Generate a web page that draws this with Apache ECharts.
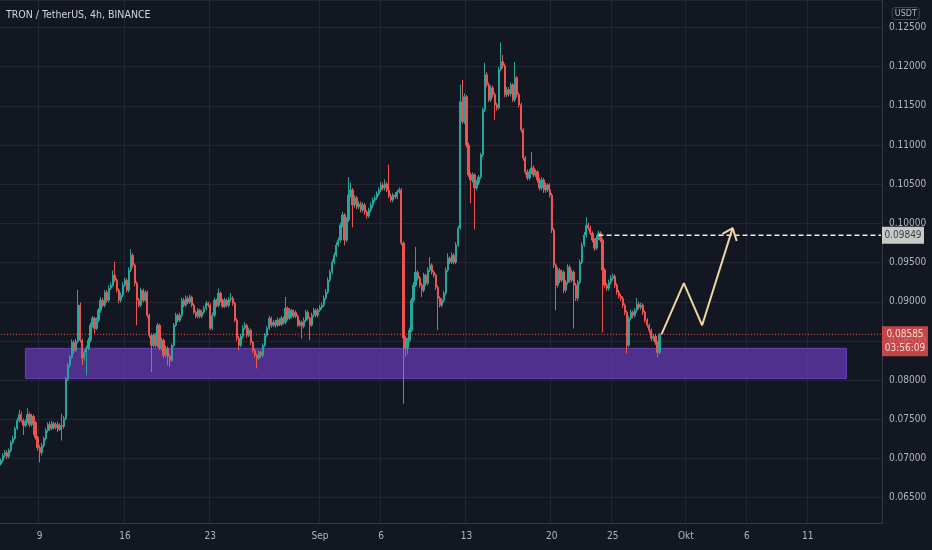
<!DOCTYPE html>
<html><head><meta charset="utf-8">
<script src="https://cdn.jsdelivr.net/npm/echarts@6/dist/echarts.min.js"></script>
<style>html,body{margin:0;padding:0;background:#131722;}#c{width:932px;height:550px;}</style>
</head><body><div id="c"></div>
<script>
// ---- data (prices in 1e-5 USDT) ----
const startTime = '2021-08-05T20:00:00Z';
const slotCount = 434;
const priceScale = 1e5;
const firstOpen = 6930;
const closes = [
6974,7038,7076,7025,7102,7204,7255,7383,7485,7562,
7485,7421,7472,7562,7434,7536,7459,7268,7140,7076,
7165,7255,7357,7434,7383,7446,7395,7434,7370,7421,
7408,7510,8010,8189,8291,8482,8380,8495,8956,8508,
8278,8355,8406,8508,8700,8790,8662,8764,8892,9020,
8956,9122,9020,9173,9212,9340,9276,9148,9020,9084,
9212,9276,9148,9404,9595,9468,9237,9020,8956,9148,
9020,9122,8828,8572,8444,8572,8444,8700,8406,8508,
8317,8406,8304,8253,8444,8700,8828,8764,8828,9020,
8956,9045,8994,9058,8956,8866,8815,8892,8815,8866,
8917,8981,8956,8662,8828,9020,8956,9109,9020,8943,
9020,8956,9032,9045,8981,8764,8534,8444,8559,8662,
8700,8572,8636,8482,8380,8317,8278,8355,8317,8444,
8572,8662,8790,8700,8739,8700,8764,8713,8790,8739,
8917,8790,8892,8815,8866,8815,8700,8739,8687,8764,
8866,8790,8700,8828,8892,8828,8892,8930,8956,9045,
9122,9276,9378,9506,9595,9723,9787,9979,10107,9787,
10043,10363,10427,10235,10325,10210,10248,10171,10235,10146,
10095,10171,10235,10299,10325,10376,10427,10491,10453,10504,
10427,10350,10299,10363,10338,10402,10427,9749,8534,8406,
8508,8636,9020,9212,9378,9301,9212,9148,9340,9237,
9404,9468,9378,9340,9186,9045,8956,9020,9109,9404,
9557,9506,9595,9506,9723,9941,11552,11296,11616,11000,
10619,10555,10619,10453,10517,10593,10874,11450,11898,11770,
11578,11731,11642,11514,11475,11962,12064,12013,11642,11706,
11655,11770,11578,11859,11642,11514,11194,10836,10657,10580,
10657,10708,10619,10657,10555,10453,10555,10427,10491,10427,
10363,9915,9468,9212,9404,9276,9378,9148,9250,9442,
9276,9378,9212,9045,9250,9506,9723,9851,9979,9941,
9877,9787,9685,9813,9877,9787,9404,9212,9173,9250,
9301,9327,9212,9122,9071,9045,8956,8866,8444,8790,
8866,8828,8892,8968,8930,8956,8866,8764,8700,8636,
8534,8559,8482,8355,8585
];
const highs = [
7000,7070,7110,7110,7130,7230,7290,7410,7520,7620,
7600,7510,7500,7640,7590,7570,7560,7480,7290,7170,
7200,7280,7390,7460,7470,7480,7470,7460,7470,7450,
7570,7540,8040,8220,8320,8520,8510,8530,9150,8990,
8530,8390,8440,8540,8730,8820,8810,8800,8920,9060,
9050,9150,9150,9210,9250,9400,9510,9300,9170,9120,
9250,9310,9300,9440,9670,9620,9490,9260,9050,9180,
9170,9150,9140,8850,8600,8600,8600,8730,8720,8540,
8530,8440,8430,8330,8470,8730,8860,8850,8860,9050,
9050,9080,9070,9090,9080,8980,8890,8920,8910,8900,
8950,9010,9000,8980,8860,9050,9040,9170,9130,9040,
9050,9040,9060,9110,9070,9000,8790,8560,8590,8700,
8740,8720,8670,8660,8500,8400,8340,8380,8380,8470,
8600,8690,8820,8810,8770,8770,8800,8790,8820,8810,
9060,8940,8920,8910,8900,8890,8840,8770,8760,8800,
8900,8890,8810,8860,8920,8910,8920,8960,8990,9080,
9160,9310,9410,9540,9630,9760,9820,10010,10150,10130,
10080,10590,10520,10450,10360,10350,10280,10280,10270,10260,
10170,10200,10270,10330,10360,10410,10460,10530,10520,10560,
10530,10750,10380,10390,10400,10430,10460,10450,9770,8560,
8540,8670,9050,9250,9700,9400,9330,9240,9370,9360,
9440,9570,9490,9400,9360,9210,9070,9050,9140,9440,
9620,9580,9630,9620,9760,9970,11770,11830,11660,11640,
11030,10650,10650,10640,10550,10620,10900,11480,12050,11930,
11800,11760,11760,11670,11540,12000,12310,12150,12040,11740,
11740,11800,11790,12060,11880,11670,11540,11220,10860,10690,
10690,10910,10740,10690,10680,10580,10590,10580,10520,10510,
10510,10390,9940,9490,9440,9430,9410,9400,9280,9480,
9470,9410,9400,9240,9280,9540,9760,9890,10080,10010,
9970,9900,9810,9850,9910,9900,9810,9430,9240,9280,
9340,9360,9350,9240,9150,9100,9070,8980,8890,8820,
8900,8890,8920,9050,9000,8990,8980,8890,8790,8720,
8660,8590,8590,8500,8600
];
const lows = [
6910,6950,7010,6990,7000,7080,7180,7240,7360,7460,
7460,7300,7400,7450,7400,7410,7300,7240,7100,6950,
7040,7140,7230,7330,7350,7360,7370,7370,7340,7350,
7230,7380,7490,7990,8160,8270,8340,8360,8470,8480,
8190,8250,8060,8380,8480,8670,8600,8640,8740,8860,
8930,8930,8990,8990,9150,9190,9250,9120,8980,8990,
9060,9190,9120,9120,9380,9440,9200,8700,8930,8930,
8990,9000,8800,8540,8100,8420,8410,8420,8380,8380,
8280,8290,8190,8170,8230,8420,8680,8740,8740,8800,
8930,8930,8970,8970,8930,8840,8790,8790,8790,8790,
8840,8890,8930,8640,8640,8800,8930,8930,8990,8920,
8920,8930,8930,9000,8950,8740,8500,8380,8420,8530,
8640,8540,8550,8450,8350,8290,8150,8250,8290,8290,
8420,8550,8640,8670,8680,8670,8680,8690,8690,8710,
8710,8760,8770,8790,8790,8790,8680,8680,8530,8660,
8740,8760,8510,8680,8800,8800,8800,8870,8900,8930,
9020,9100,9250,9350,9480,9570,9700,9760,9950,9720,
9760,10020,10330,9950,10200,10180,10180,10140,10140,10110,
10060,10070,10140,10200,10270,10300,10350,10400,10420,10420,
10400,10320,10270,10270,10310,10310,10380,9720,7700,8300,
8330,8480,8610,8990,9190,9270,9180,9060,9120,9200,
9210,9380,9350,9310,9150,8640,8930,8930,8990,9080,
9380,9480,9480,9480,9480,9700,9920,11270,11270,10970,
10590,10260,10520,9920,10420,10490,10560,10850,11420,11740,
11550,11550,11610,11320,11440,11450,11940,11980,11610,11610,
11620,11620,11550,11550,11610,11480,11160,10800,10620,10550,
10550,10630,10590,10590,10520,10420,10420,10390,10390,10400,
10330,9880,9430,8890,9180,9240,9250,9110,9120,9220,
9240,9250,8660,9010,9010,9220,9480,9700,9820,9910,
9850,9760,9650,9660,9790,9760,8610,9180,9140,9140,
9220,9270,9180,9090,9040,9010,8920,8830,8340,8420,
8760,8790,8800,8860,8900,8900,8830,8730,8670,8600,
8500,8500,8450,8290,8330
];
const tickDays = ['2021-08-09','2021-08-16','2021-08-23','2021-09-01','2021-09-06','2021-09-13','2021-09-20','2021-09-25','2021-10-01','2021-10-06','2021-10-11'];
const tickLabels = ['9','16','23','Sep','6','13','20','25','Okt','6','11'];
const lastPrice = 0.08585;
const countdown = '03:56:09';
const targetPrice = 0.09849;
const targetTimes = ['2021-09-23 20:00','2021-10-17 00:00'];
const zoneTimes = ['2021-08-07 20:00','2021-10-14 04:00'];
const zonePrices = [0.08406, 0.08022];
const projTimes = ['2021-09-29 00:00','2021-09-30 20:00','2021-10-02 08:00','2021-10-04 20:00'];
const projPrices = [0.08585, 0.09237, 0.08700, 0.09940];
const arrowTimes = ['2021-10-04 00:00','2021-10-04 20:00','2021-10-05 04:00'];
const arrowPrices = [0.09866, 0.09940, 0.09776];

// ---- build ----
function slotName(i){
  const d = new Date(Date.parse(startTime) + i*4*3600*1000);
  const p = n => String(n).padStart(2,'0');
  return d.getUTCFullYear()+'-'+p(d.getUTCMonth()+1)+'-'+p(d.getUTCDate())+' '+p(d.getUTCHours())+':00';
}
const slots = Array.from({length: slotCount}, (_, i) => slotName(i));
const firstSlot = slots[0];
const lastSlot = slots[slots.length-1];
const candles = closes.map((c, i) => {
  const o = i === 0 ? firstOpen : closes[i-1];
  return [o/priceScale, c/priceScale, lows[i]/priceScale, highs[i]/priceScale];
});
const tickMap = {};
tickDays.forEach((d,k) => { tickMap[d+' 00:00'] = tickLabels[k]; });
const isTick = (idx, val) => tickMap[val] !== undefined;
const FONT = "'DejaVu Sans Condensed','Liberation Sans',sans-serif";
const GRID = '#222631';

const chart = echarts.init(document.getElementById('c'), null, {width:932, height:550});
chart.setOption({
  backgroundColor: '#131722',
  animation: false,
  title: [
    {text: 'TRON / TetherUS, 4h, BINANCE', left: 1, top: 5,
     textStyle: {color: '#d1d4dc', fontSize: 10.5, fontWeight: 'normal', fontFamily: FONT}},
    {text: 'USDT', right: 12, top: 7, padding: [2,3], borderColor: '#434651', borderWidth: 1, borderRadius: 3,
     backgroundColor: '#131722',
     textStyle: {color: '#b2b5be', fontSize: 9, fontWeight: 'normal', fontFamily: FONT}}
  ],
  grid: {left: 0, right: 50, top: 0, bottom: 27, outerBoundsMode: 'none'},
  xAxis: {
    type: 'category', data: slots, boundaryGap: true,
    axisLine: {show: true, lineStyle: {color: '#363a45'}},
    axisTick: {show: false},
    axisLabel: {interval: isTick, formatter: v => tickMap[v] || '', color: '#b2b5be', fontSize: 10, margin: 8, fontFamily: FONT},
    splitLine: {show: true, interval: isTick, lineStyle: {color: GRID, width: 1}}
  },
  yAxis: {
    type: 'value', position: 'right', scale: true,
    min: 0.06177, max: 0.12851, minInterval: 0.005, maxInterval: 0.005,
    axisLine: {show: true, lineStyle: {color: '#363a45'}},
    axisTick: {show: false},
    axisLabel: {color: '#b2b5be', fontSize: 10, margin: 7, fontFamily: FONT, showMinLabel: false, showMaxLabel: false,
      formatter: v => v.toFixed(5)},
    splitLine: {show: true, lineStyle: {color: GRID, width: 1}}
  },
  series: [
    {
      type: 'candlestick', data: candles, barWidth: '85%', z: 2,
      itemStyle: {color: '#26a69a', color0: '#ef5350', borderColor: '#26a69a', borderColor0: '#ef5350', borderWidth: 1}
    },
    {
      type: 'line', z: 3, silent: true, symbol: 'none',
      data: [[firstSlot, lastPrice], [lastSlot, lastPrice]],
      lineStyle: {color: '#ef5350', type: [1,2], width: 1}
    },
    {
      type: 'line', data: [], z: 4, silent: true,
      markArea: {silent: true, itemStyle: {color: 'rgba(103,58,183,0.72)', borderColor: '#6a3fc0', borderWidth: 1},
        data: [[{xAxis: zoneTimes[0], yAxis: zonePrices[0]}, {xAxis: zoneTimes[1], yAxis: zonePrices[1]}]]}
    },
    {
      type: 'line', z: 5, silent: true, symbol: 'none',
      data: targetTimes.map(t => [t, targetPrice]),
      lineStyle: {color: '#e8e8e8', width: 1.5, type: [5,3]}
    },
    {
      type: 'line', z: 6, silent: true, symbol: 'none',
      data: projTimes.map((t,k) => [t, projPrices[k]]),
      lineStyle: {color: '#efd5a2', width: 2}
    },
    {
      type: 'line', z: 6, silent: true, symbol: 'none',
      data: arrowTimes.map((t,k) => [t, arrowPrices[k]]),
      lineStyle: {color: '#efd5a2', width: 2}
    },
    {
      type: 'scatter', z: 10, silent: true, clip: false,
      data: [[lastSlot, targetPrice]],
      symbol: 'rect', symbolSize: [42, 17], symbolOffset: [22, 0],
      itemStyle: {color: '#f7f7f2'},
      label: {show: true, position: 'inside', formatter: () => targetPrice.toFixed(5),
        color: '#131722', fontSize: 10, fontFamily: FONT}
    },
    {
      type: 'scatter', z: 10, silent: true, clip: false,
      data: [[lastSlot, lastPrice]],
      symbol: 'rect', symbolSize: [46, 30], symbolOffset: [24, 7],
      itemStyle: {color: '#ef5350'},
      label: {show: true, position: 'inside', formatter: () => lastPrice.toFixed(5) + '\n' + countdown,
        color: '#ffffff', fontSize: 10, lineHeight: 14, fontFamily: FONT}
    }
  ]
});
</script>
</body></html>
